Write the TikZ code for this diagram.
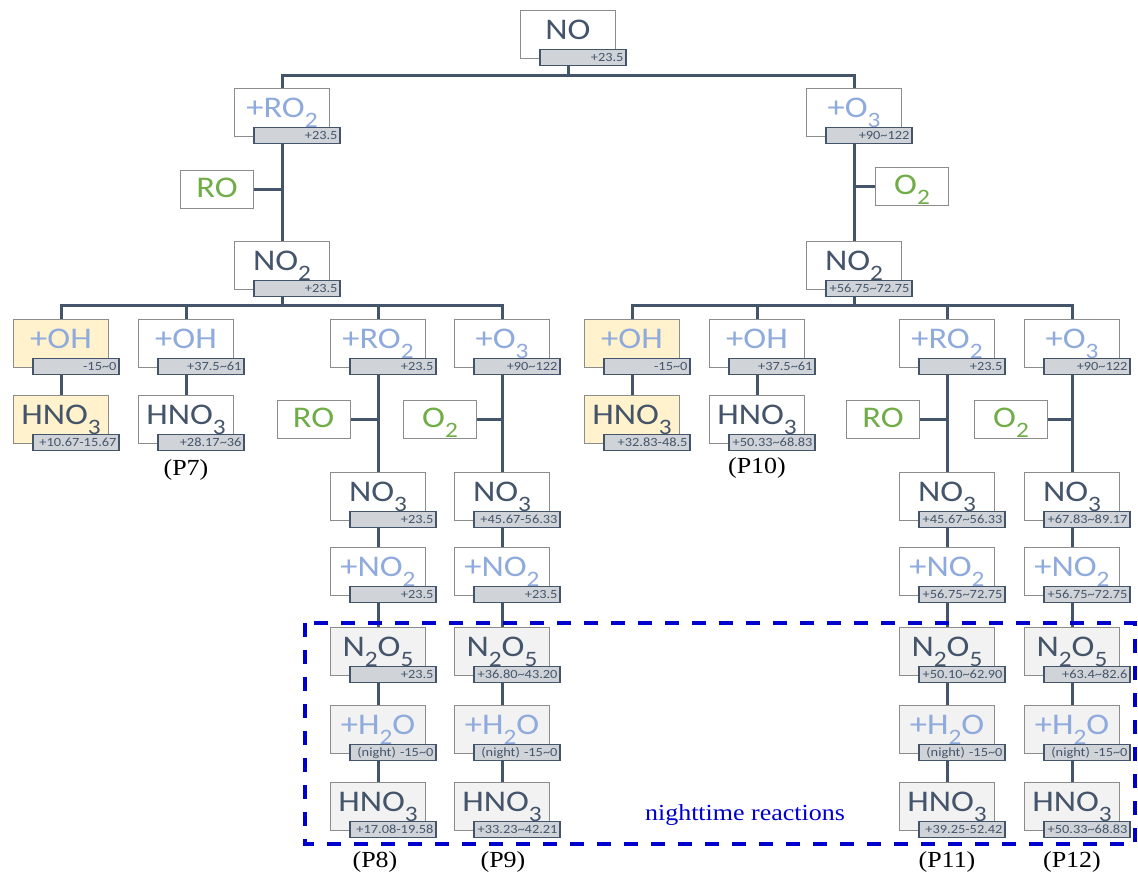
\documentclass[tikz,border=0pt]{standalone}
\usepackage{fontspec}
\setmainfont{Carlito}[FakeStretch=1.15]
\newfontfamily\tnr{Liberation Serif}[FakeStretch=1.13]
\usetikzlibrary{backgrounds,calc}
\definecolor{slate}{HTML}{44546A}
\definecolor{reag}{HTML}{8FAADC}
\definecolor{grn}{HTML}{70AD47}
\definecolor{boxgray}{HTML}{8C8C8C}
\definecolor{ylw}{HTML}{FFF2CC}
\definecolor{nightfill}{HTML}{F2F2F2}
\definecolor{labfill}{HTML}{D0D4D9}
\definecolor{nblue}{HTML}{0000CC}
\newcommand\sub[1]{\raisebox{-10pt}{\fontsize{22}{22}\selectfont #1}}
\newcommand\spec[6]{%
  \node[box,#6] (#1) at (#2,#3) {#4};
  \node[lab] (#1l) at ($(#1.south east)+(-33,-1)$) {#5};
}
\tikzset{
  box/.style={draw=boxgray, line width=1pt, fill=white, minimum width=95pt, minimum height=48pt,
    inner sep=0pt, text height=19.5pt, text depth=8pt, font=\fontsize{30}{30}\selectfont},
  small/.style={draw=boxgray, line width=1pt, fill=white, minimum width=73pt, minimum height=38pt,
    inner sep=0pt, text height=19.5pt, text depth=3pt, font=\fontsize{30}{30}\selectfont},
  sp/.style={text=slate},
  rg/.style={text=reag},
  gr/.style={text=grn},
  yl/.style={fill=ylw},
  nt/.style={fill=nightfill},
  lab/.style={draw=slate, line width=1.2pt, fill=labfill, minimum height=16pt, text width=81pt,
    inner xsep=2.5pt, inner ysep=0pt, align=right, text=slate, font=\fontsize{12.5}{13}\selectfont},
  conn/.style={draw=slate, line width=3pt},
  plab/.style={font=\tnr\fontsize{23}{23}\selectfont, text=black},
}
\begin{document}
\begin{tikzpicture}[x=1pt,y=-1pt]
\useasboundingbox (0,0) rectangle (1138,879);
% top
\spec{a}{568}{34}{NO}{+23.5}{sp}
\spec{b1}{282}{112}{+RO\sub2}{+23.5}{rg}
\spec{b2}{854}{112}{+O\sub3}{+90\textasciitilde122}{rg}
\node[small,gr] (r1) at (217,189) {RO};
\node[small,gr] (o1) at (912,186) {O\sub2};
\spec{c1}{282}{265}{NO\sub2}{+23.5}{sp}
\spec{c2}{854}{265}{NO\sub2}{+56.75\textasciitilde72.75}{sp}
% row D
\spec{d1}{61}{343}{+OH}{-15\textasciitilde0}{rg,yl}
\spec{d2}{186}{343}{+OH}{+37.5\textasciitilde61}{rg}
\spec{d3}{378}{343}{+RO\sub2}{+23.5}{rg}
\spec{d4}{502}{343}{+O\sub3}{+90\textasciitilde122}{rg}
\spec{d5}{632}{343}{+OH}{-15\textasciitilde0}{rg,yl}
\spec{d6}{757}{343}{+OH}{+37.5\textasciitilde61}{rg}
\spec{d7}{947}{343}{+RO\sub2}{+23.5}{rg}
\spec{d8}{1072}{343}{+O\sub3}{+90\textasciitilde122}{rg}
% row E
\spec{e1}{61}{419}{HNO\sub3}{+10.67-15.67}{sp,yl}
\spec{e2}{186}{419}{HNO\sub3}{+28.17\textasciitilde36}{sp}
\spec{e5}{632}{419}{HNO\sub3}{+32.83-48.5}{sp,yl}
\spec{e6}{757}{419}{HNO\sub3}{+50.33\textasciitilde68.83}{sp}
\node[small,gr] (re3) at (313.5,419) {RO};
\node[small,gr] (oe4) at (440,419) {O\sub2};
\node[small,gr] (re7) at (883,419) {RO};
\node[small,gr] (oe8) at (1011,419) {O\sub2};
% row F
\spec{f3}{378}{496}{NO\sub3}{+23.5}{sp}
\spec{f4}{502}{496}{NO\sub3}{+45.67-56.33}{sp}
\spec{f7}{947}{496}{NO\sub3}{+45.67\textasciitilde56.33}{sp}
\spec{f8}{1072}{496}{NO\sub3}{+67.83\textasciitilde89.17}{sp}
% row G
\spec{g3}{378}{571}{+NO\sub2}{+23.5}{rg}
\spec{g4}{502}{571}{+NO\sub2}{+23.5}{rg}
\spec{g7}{947}{571}{+NO\sub2}{+56.75\textasciitilde72.75}{rg}
\spec{g8}{1072}{571}{+NO\sub2}{+56.75\textasciitilde72.75}{rg}
% row H
\spec{h3}{378}{651}{N\sub2O\sub5}{+23.5}{sp,nt}
\spec{h4}{502}{651}{N\sub2O\sub5}{+36.80\textasciitilde43.20}{sp,nt}
\spec{h7}{947}{651}{N\sub2O\sub5}{+50.10\textasciitilde62.90}{sp,nt}
\spec{h8}{1072}{651}{N\sub2O\sub5}{+63.4\textasciitilde82.6}{sp,nt}
% row I
\spec{i3}{378}{729}{+H\sub2O}{(night) -15\textasciitilde0}{rg,nt}
\spec{i4}{502}{729}{+H\sub2O}{(night) -15\textasciitilde0}{rg,nt}
\spec{i7}{947}{729}{+H\sub2O}{(night) -15\textasciitilde0}{rg,nt}
\spec{i8}{1072}{729}{+H\sub2O}{(night) -15\textasciitilde0}{rg,nt}
% row J
\spec{j3}{378}{806}{HNO\sub3}{+17.08-19.58}{sp,nt}
\spec{j4}{502}{806}{HNO\sub3}{+33.23\textasciitilde42.21}{sp,nt}
\spec{j7}{947}{806}{HNO\sub3}{+39.25-52.42}{sp,nt}
\spec{j8}{1072}{806}{HNO\sub3}{+50.33\textasciitilde68.83}{sp,nt}
% path labels
\node[plab] (p7) at (186,470) {(P7)};
\node[plab] (p10) at (757,468) {(P10)};
\node[plab] (p8) at (375,862) {(P8)};
\node[plab] (p9) at (503,862) {(P9)};
\node[plab] (p11) at (947,862) {(P11)};
\node[plab] (p12) at (1072,862) {(P12)};
\node[plab, text=nblue] (nr) at (745,815) {nighttime reactions};
% connectors
\begin{pgfonlayer}{background}
\coordinate (t1) at (568,75);
\coordinate (t2) at (282,305);
\coordinate (t3) at (854,305);
\draw[conn] (a.center) -- (t1);
\draw[conn] (b1.center) -- (b1.center |- t1) -- (b2.center |- t1) -- (b2.center);
\draw[conn] (b1.center) -- (c1.center);
\draw[conn] (b2.center) -- (c2.center);
\draw[conn] (r1.center) -- (r1.center -| b1);
\draw[conn] (o1.center) -- (o1.center -| b2);
\draw[conn] (c1.center) -- (t2);
\draw[conn] (c2.center) -- (t3);
\draw[conn] (d1.center) -- (d1.center |- t2) -- (d4.center |- t2) -- (d4.center);
\draw[conn] (d2.center) -- (d2.center |- t2);
\draw[conn] (d3.center) -- (d3.center |- t2);
\draw[conn] (d5.center) -- (d5.center |- t3) -- (d8.center |- t3) -- (d8.center);
\draw[conn] (d6.center) -- (d6.center |- t3);
\draw[conn] (d7.center) -- (d7.center |- t3);
\draw[conn] (d1.center) -- (e1.center);
\draw[conn] (d2.center) -- (e2.center);
\draw[conn] (d5.center) -- (e5.center);
\draw[conn] (d6.center) -- (e6.center);
\draw[conn] (re3.center) -- (re3.center -| d3);
\draw[conn] (oe4.center) -- (oe4.center -| d4);
\draw[conn] (re7.center) -- (re7.center -| d7);
\draw[conn] (oe8.center) -- (oe8.center -| d8);
\foreach \c in {3,4,7,8}{
  \draw[conn] (d\c.center) -- (f\c.center) -- (g\c.center) -- (h\c.center) -- (i\c.center) -- (j\c.center);
}
\end{pgfonlayer}
% nighttime box
\draw[nblue, line width=4pt, dash pattern=on 14pt off 13pt] (305,623) rectangle (1135,844);
\end{tikzpicture}
\end{document}
